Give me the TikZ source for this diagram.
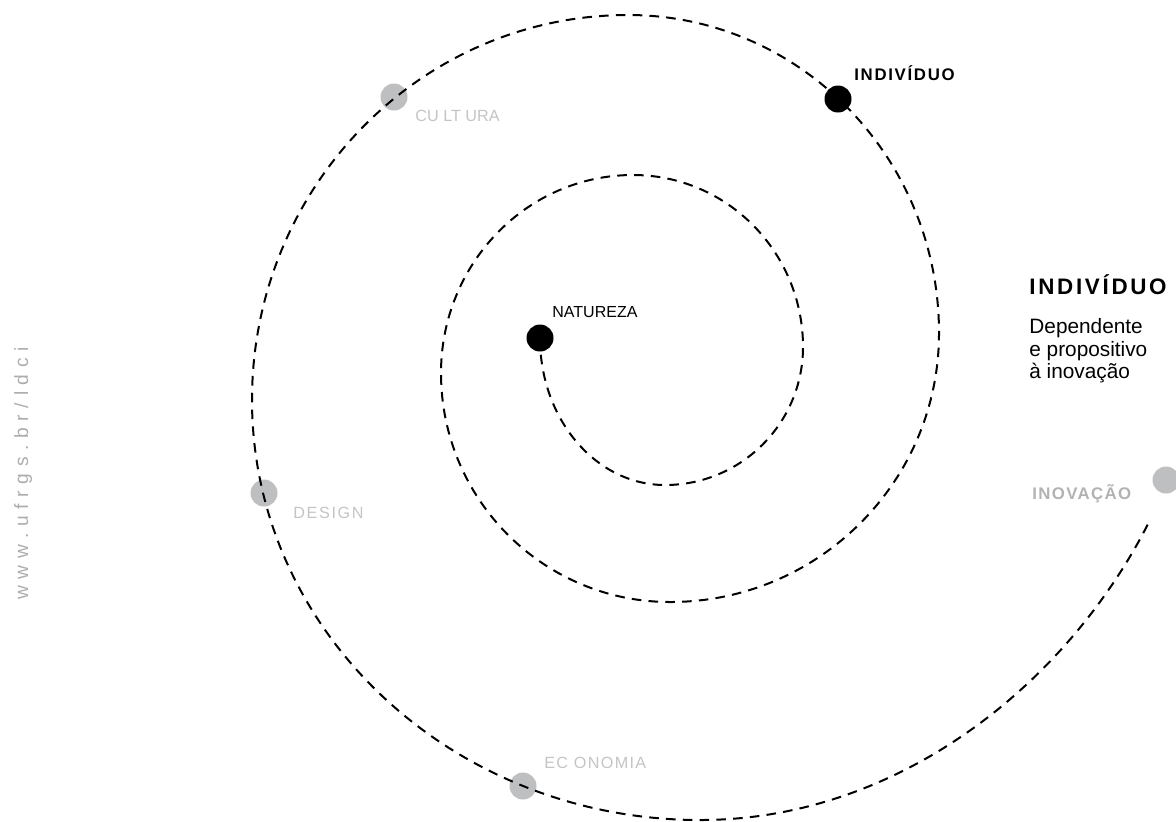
\documentclass[tikz,border=0pt]{standalone}
\usepackage{fontspec}
\setmainfont{Liberation Sans}
\definecolor{dotgray}{HTML}{BEBFC1}
\definecolor{lblgray}{HTML}{C4C4C4}
\definecolor{inogray}{HTML}{B2B2B2}
\definecolor{wmgray}{HTML}{ADADAD}
\begin{document}
\begin{tikzpicture}[x=0.5pt,y=-0.5pt,
  spiral/.style={line width=1pt, dash pattern=on 4.8pt off 3.6pt},
  bdot/.style={circle, fill=black, inner sep=0pt, minimum size=13.5pt},
  gdot/.style={circle, fill=dotgray, inner sep=0pt, minimum size=13.5pt},
  txt/.style={anchor=base west, inner sep=0pt},
  glabel/.style={txt, text=lblgray, font=\fontsize{8.1}{9.7}\selectfont},
  desc/.style={txt, font=\fontsize{10.4}{11.25}\selectfont}]
\useasboundingbox (0,0) rectangle (1176,821);

% dots
\node[bdot] (nat) at (540,338) {};
\node[bdot] (ind) at (838,99) {};
\node[gdot] (cul) at (394,97) {};
\node[gdot] (des) at (264,493) {};
\node[gdot] (eco) at (523,786) {};
\node[gdot] (ino) at (1166,480) {};

% spiral
\coordinate (spend) at (1150,520);
\draw[spiral] (nat.center) .. controls (540,419.2) and (596,485) .. (665,485)
  .. controls (741.2,485) and (803,423.2) .. (803,347)
  .. controls (803,252) and (726.9,175) .. (633,175)
  .. controls (527,175) and (441,263.6) .. (441,373)
  .. controls (441,499.5) and (543.5,602) .. (670,602)
  .. controls (818.6,602) and (939,481.6) .. (939,333)
  .. controls (939,157.4) and (799.8,15) .. (628,15)
  .. controls (420.3,15) and (252,187.4) .. (252,400)
  .. controls (252,632) and (452.6,820) .. (700,820)
  .. controls (900,820) and (1069,682) .. (spend);

% labels
\node[txt, font=\fontsize{8}{9.6}\selectfont] (natl) at (552,317) {NATUREZA};
\node[txt, font=\fontsize{8.4}{10}\selectfont\bfseries\addfontfeatures{LetterSpace=10}] (indl) at (854,80) {INDIVÍDUO};
\node[glabel] (cull) at (415,121.7) {CU LT URA};
\node[glabel, font=\fontsize{8.1}{9.7}\selectfont\addfontfeatures{LetterSpace=10}] (desl) at (293,518) {DESIGN};
\node[glabel, font=\fontsize{8.1}{9.7}\selectfont\addfontfeatures{LetterSpace=8}] (ecol) at (544,768) {EC ONOMIA};
\node[txt, text=inogray, font=\fontsize{8.4}{10}\selectfont\bfseries\addfontfeatures{LetterSpace=8}] (inol) at (1032,499) {INOVAÇÃO};

% right text
\node[txt, font=\fontsize{11.2}{13}\selectfont\bfseries\addfontfeatures{LetterSpace=12}] (title) at (1029,294) {INDIVÍDUO};
\node[desc] (d1) at (1029,333) {Dependente};
\node[desc] (d2) at (1029,356) {e propositivo};
\node[desc] (d3) at (1029,378) {à inovação};

% watermark
\node[txt, rotate=90, text=wmgray, font=\fontsize{9.6}{11}\selectfont\addfontfeatures{LetterSpace=35}] (wm) at (28,600) {www.ufrgs.br/ldci};
\end{tikzpicture}
\end{document}
